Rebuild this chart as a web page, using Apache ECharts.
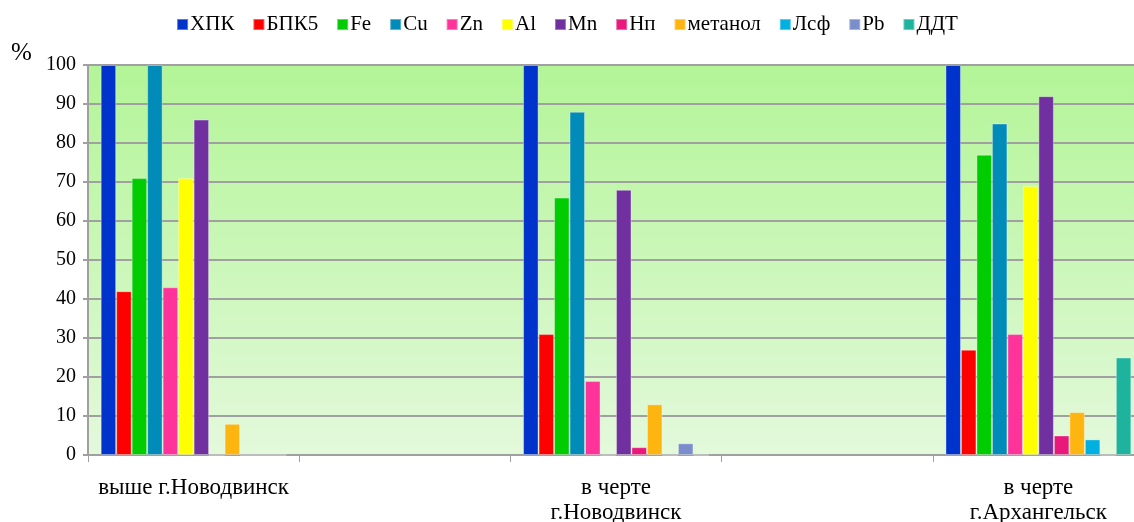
<!DOCTYPE html>
<html>
<head>
<meta charset="utf-8">
<script src="https://cdn.jsdelivr.net/npm/echarts@6/dist/echarts.min.js"></script>
<style>
  html, body { margin: 0; padding: 0; background: #ffffff; }
  #chart { width: 1134px; height: 522px; }
</style>
</head>
<body>
<div id="chart"></div>
<script>
// Sampling sites (empty slots keep the groups spaced apart)
const categories = ['выше г.Новодвинск', '', 'в черте\nг.Новодвинск', '', 'в черте\nг.Архангельск'];

// Indicators (legend order)
const seriesNames = ['ХПК', 'БПК5', 'Fe', 'Cu', 'Zn', 'Al', 'Mn', 'Нп', 'метанол', 'Лсф', 'Pb', 'ДДТ'];
const seriesColors = ['#0033cc', '#ff0000', '#00cc00', '#008bb8', '#ff3399', '#ffff00',
                      '#7030a0', '#e8197a', '#ffb50f', '#00b0e0', '#7a8ecc', '#1db39d'];

// Share of samples, % — one array per indicator, values per site
const xpk      = [100, null, 100, null, 100];
const bpk5     = [42, null, 31, null, 27];
const fe       = [71, null, 66, null, 77];
const cu       = [100, null, 88, null, 85];
const zn       = [43, null, 19, null, 31];
const al       = [71, null, 0, null, 69];
const mn       = [86, null, 68, null, 92];
const np       = [0, null, 2, null, 5];
const methanol = [8, null, 13, null, 11];
const lsf      = [0, null, 0, null, 4];
const pb       = [0, null, 3, null, 0];
const ddt      = [0, null, 0, null, 25];

const seriesValues = [xpk, bpk5, fe, cu, zn, al, mn, np, methanol, lsf, pb, ddt];

// Y axis ticks
const yMin = 0, yMax = 100, yStep = 10;

const serif = '"Liberation Serif", "DejaVu Serif", serif';

const chart = echarts.init(document.getElementById('chart'), null, { renderer: 'canvas' });

chart.setOption({
  animation: false,
  textStyle: { fontFamily: serif },
  color: seriesColors,
  legend: {
    top: 9,
    left: 'center',
    itemWidth: 11,
    itemHeight: 11,
    itemGap: 18,
    icon: 'rect',
    textStyle: { fontFamily: serif, fontSize: 21, color: '#000', padding: [0, 0, 0, -3] },
    data: seriesNames
  },
  graphic: [{
    type: 'text',
    left: 11,
    top: 41,
    style: { text: '%', font: '25px ' + serif, fill: '#000' }
  }],
  grid: {
    left: 88,
    right: -10,
    top: 65,
    bottom: 67,
    outerBoundsMode: 'none',
    containLabel: false,
    show: true,
    borderWidth: 0,
    backgroundColor: new echarts.graphic.LinearGradient(0, 0, 0, 1, [
      { offset: 0, color: '#b3f597' },
      { offset: 1, color: '#e3f9db' }
    ])
  },
  xAxis: {
    type: 'category',
    data: categories,
    boundaryGap: true,
    axisLine: { show: true, lineStyle: { color: '#a0a0a0', width: 2 } },
    axisTick: { show: true, length: 7, interval: 0, lineStyle: { color: '#a0a0a0', width: 1 } },
    axisLabel: {
      interval: 0,
      margin: 20,
      fontFamily: serif,
      fontSize: 23,
      lineHeight: 25,
      color: '#000'
    },
    splitLine: { show: false }
  },
  yAxis: {
    type: 'value',
    min: yMin,
    max: yMax,
    interval: yStep,
    axisLine: { show: true, lineStyle: { color: '#a0a0a0', width: 2 } },
    axisTick: { show: true, length: 5, lineStyle: { color: '#a0a0a0', width: 2 } },
    axisLabel: { fontFamily: serif, fontSize: 20, color: '#000', margin: 12 },
    splitLine: { show: true, lineStyle: { color: '#a0a0a0', width: 2 } }
  },
  series: seriesNames.map((name, i) => ({
    name: name,
    type: 'bar',
    data: seriesValues[i],
    barGap: '0%',
    barCategoryGap: '12%',
    itemStyle: {
      color: seriesColors[i],
      borderColor: 'rgba(255,255,255,0.35)',
      borderWidth: 1
    },
    emphasis: { disabled: true }
  }))
});
</script>
</body>
</html>
